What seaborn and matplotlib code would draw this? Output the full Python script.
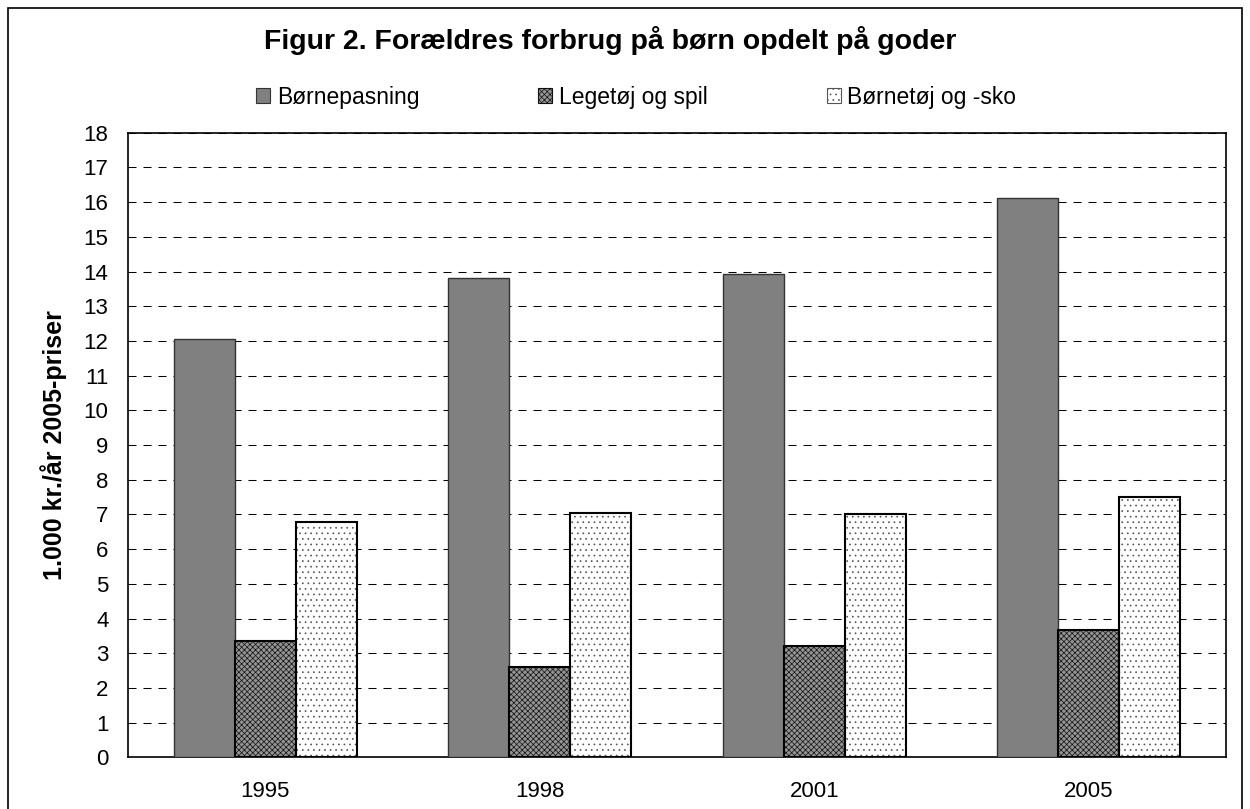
import pandas as pd
import seaborn as sns
import matplotlib.pyplot as plt
from matplotlib.patches import Rectangle, Patch
from matplotlib.ticker import FixedLocator

years = ["1995", "1998", "2001", "2005"]
goods = ["Børnepasning", "Legetøj og spil", "Børnetøj og -sko"]
boernepasning = [12.05, 13.8, 13.92, 16.11]
legetoej = [3.36, 2.6, 3.21, 3.67]
boernetoej = [6.77, 7.05, 7.0, 7.5]
yticks = list(range(0, 19))

df = pd.DataFrame({
    "år": years * 3,
    "gode": [goods[0]] * 4 + [goods[1]] * 4 + [goods[2]] * 4,
    "værdi": boernepasning + legetoej + boernetoej,
})

sns.set_style("white")
plt.rcParams["font.family"] = ["Liberation Sans", "DejaVu Sans"]
plt.rcParams["hatch.linewidth"] = 0.5
plt.rcParams["text.color"] = "black"
plt.rcParams["axes.labelcolor"] = "black"
plt.rcParams["xtick.color"] = "black"
plt.rcParams["ytick.color"] = "black"

fig = plt.figure(figsize=(12.5, 8.09), dpi=100)
ax = fig.add_axes([0.1024, 0.0638, 0.8784, 0.7722])

faces = ["#808080", "#949494", "#ffffff"]
sns.barplot(data=df, x="år", y="værdi", hue="gode", order=years, hue_order=goods,
            palette=faces, width=0.667, saturation=1, ax=ax, legend=False)

styles = [
    dict(hatch=None, hatchcolor=None, edge="#333333", lw=1.0),
    dict(hatch="xxxxxx", hatchcolor="#111111", edge="#000000", lw=1.5),
    dict(hatch="...", hatchcolor="#555555", edge="#000000", lw=1.5),
]
handles = []
for cont, st, fc in zip(ax.containers, styles, faces):
    for p in cont:
        p.set_facecolor(fc)
        p.set_zorder(3)
        if st["hatch"]:
            # hatch drawn in its own colour, outline drawn on top
            p.set_hatch(st["hatch"])
            p.set_edgecolor(st["hatchcolor"])
            p.set_linewidth(0)
            ax.add_patch(Rectangle(p.get_xy(), p.get_width(), p.get_height(),
                                   fill=False, edgecolor=st["edge"],
                                   linewidth=st["lw"], zorder=4))
        else:
            p.set_edgecolor(st["edge"])
            p.set_linewidth(st["lw"])
    handles.append(Patch(facecolor=fc, edgecolor=st["hatchcolor"] or st["edge"],
                         hatch=st["hatch"], linewidth=0.8))

ax.set_ylim(0, 18)
ax.set_xlim(-0.5, 3.5)
ax.set_yticks(yticks)
ax.yaxis.grid(True, color="#000000", linestyle=(0, (7.7, 6.7)), linewidth=0.75)
ax.set_axisbelow(True)
ax.xaxis.set_minor_locator(FixedLocator([-0.5, 0.5, 1.5, 2.5, 3.5]))
ax.tick_params(axis="x", which="major", length=0, labelsize=16, pad=17)
ax.tick_params(axis="x", which="minor", length=6, width=1, direction="out", color="#555555")
ax.tick_params(axis="y", which="major", length=10, width=1, direction="inout", labelsize=16, pad=9)
for s in ax.spines.values():
    s.set_color("#000000")
    s.set_linewidth(1.2)

ax.set_xlabel("")
ax.set_ylabel("1.000 kr./år 2005-priser", fontsize=18, fontweight="bold", labelpad=12)

fig.text(0.488, 0.95, "Figur 2. Forældres forbrug på børn opdelt på goder",
         ha="center", va="center", fontsize=20.5, fontweight="bold")

fig.legend(handles=handles, labels=goods, loc="center", bbox_to_anchor=(0.509, 0.88),
           ncol=3, frameon=False, fontsize=16.5, handlelength=0.6, handleheight=0.6,
           handletextpad=0.3, columnspacing=5.2)

fig.patches.append(Rectangle((8 / 1250, -0.05), 1234 / 1250, 1 - 8 / 809 + 0.05,
                             transform=fig.transFigure, fill=False,
                             edgecolor="#000000", linewidth=1.2, figure=fig))

fig.savefig("out.png", dpi=100)
